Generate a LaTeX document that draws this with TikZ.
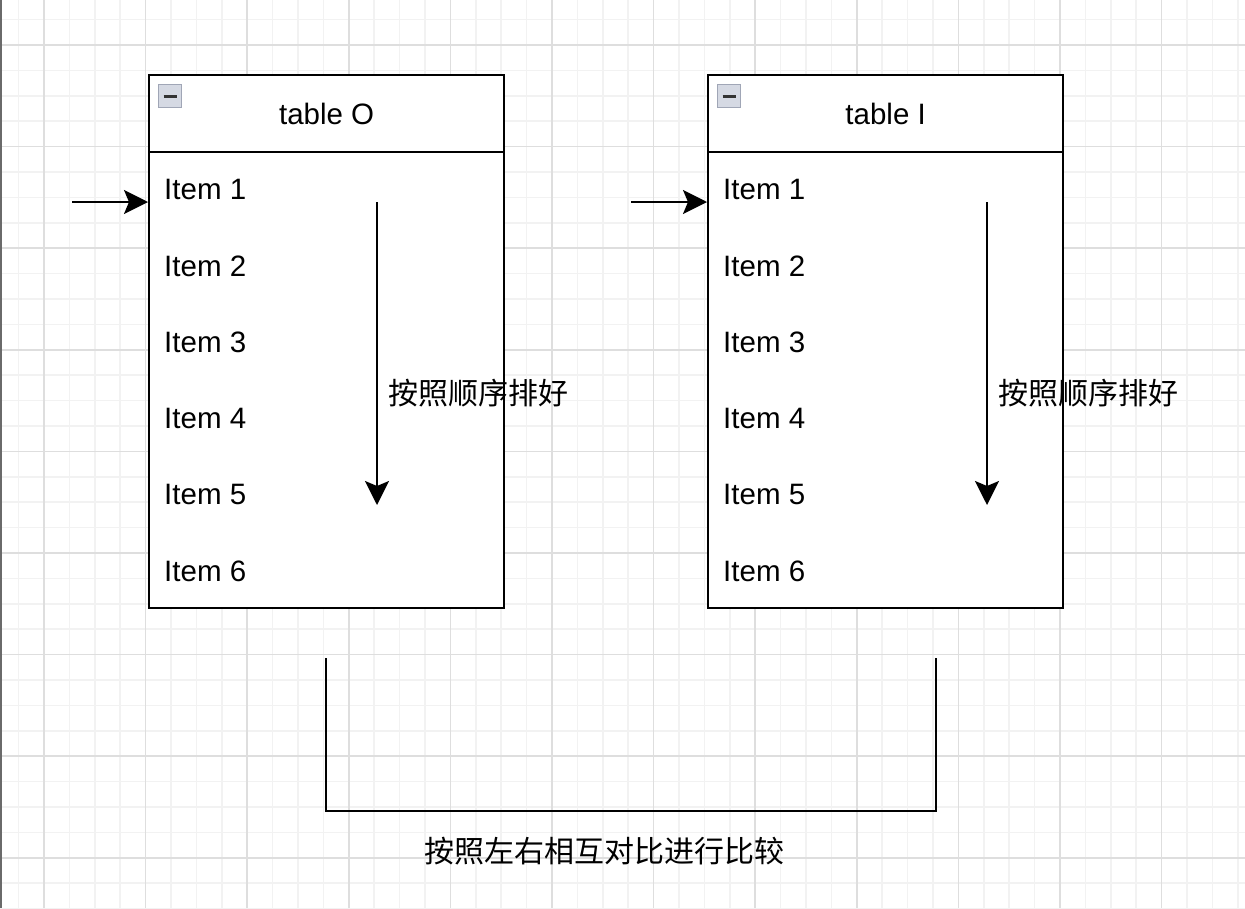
\documentclass[tikz,border=0pt]{standalone}
\usepackage{fontspec}
\setmainfont{Liberation Sans}
\newfontfamily\cjk{Noto Sans CJK SC}
\usetikzlibrary{arrows.meta}
\definecolor{gminor}{HTML}{F2F2F2}
\definecolor{gmajor}{HTML}{DEDEDE}
\definecolor{iconfill}{HTML}{D5D9E3}
\definecolor{iconline}{HTML}{A0A6B6}
\definecolor{edgegray}{HTML}{6A6A6A}
\tikzset{
  minorline/.style={gminor, line width=1.5pt},
  majorline/.style={gmajor, line width=1.5pt},
  tblbox/.style={draw=black, line width=2.3pt, fill=white, minimum width=355pt, inner sep=0pt, anchor=north west},
  hdr/.style={tblbox, minimum height=77pt, font=\fontsize{29.5}{34}\selectfont},
  body/.style={tblbox, minimum height=456pt},
  item/.style={anchor=west, inner sep=0pt, font=\fontsize{29.5}{34}\selectfont},
  icon/.style={draw=iconline, fill=iconfill, line width=1.5pt, minimum size=23pt, inner sep=0pt},
  icondash/.style={line width=3pt, draw=black!80},
  arr/.style={line width=2pt, -{Stealth[length=24pt, width=24pt, inset=5pt]}},
  conn/.style={line width=2pt},
  zh/.style={inner sep=0pt, font=\cjk\fontsize{30}{36}\selectfont},
}
\begin{document}
\begin{tikzpicture}[x=1pt, y=-1pt]
\useasboundingbox (0,0) rectangle (1245,908);
\fill[white] (0,0) rectangle (1245,908);
% grid
\foreach \i in {-1,...,48} \draw[minorline] ({44+25.4*\i},0) -- ({44+25.4*\i},908);
\foreach \j in {-1,...,35} \draw[minorline] (0,{45+25.4*\j}) -- (1245,{45+25.4*\j});
\foreach \i in {0,...,12} \draw[majorline] ({44+101.6*\i},0) -- ({44+101.6*\i},908);
\foreach \j in {0,...,8} \draw[majorline] (0,{45+101.6*\j}) -- (1245,{45+101.6*\j});
\draw[edgegray, line width=2.5pt] (1,0) -- (1,908);

% table O
\node[hdr] (hO) at (148,74) {table O};
\node[body] (bO) at (148,151) {};
\node[icon] (icO) at (170,96) {};
\draw[icondash] ([xshift=-6.5pt]icO.center) -- ([xshift=6.5pt]icO.center);
\node[item] (o1) at (164,189) {Item 1};
\node[item] (o2) at (164,266) {Item 2};
\node[item] (o3) at (164,342) {Item 3};
\node[item] (o4) at (164,418) {Item 4};
\node[item] (o5) at (164,494) {Item 5};
\node[item] (o6) at (164,571) {Item 6};

% table I
\node[hdr] (hI) at (707,74) {table I};
\node[body] (bI) at (707,151) {};
\node[icon] (icI) at (729,96) {};
\draw[icondash] ([xshift=-6.5pt]icI.center) -- ([xshift=6.5pt]icI.center);
\node[item] (i1) at (723,189) {Item 1};
\node[item] (i2) at (723,266) {Item 2};
\node[item] (i3) at (723,342) {Item 3};
\node[item] (i4) at (723,418) {Item 4};
\node[item] (i5) at (723,494) {Item 5};
\node[item] (i6) at (723,571) {Item 6};

% entry arrows
\coordinate (sO) at (72,202);
\coordinate (sI) at (631,202);
\draw[arr] (sO) -- (sO -| bO.west);
\draw[arr] (sI) -- (sI -| bI.west);

% sort arrows
\coordinate (dO1) at (377,202);
\coordinate (dO2) at (377,505);
\coordinate (dI1) at (987,202);
\coordinate (dI2) at (987,505);
\draw[arr] (dO1) -- (dO2);
\draw[arr] (dI1) -- (dI2);
\node[zh, anchor=west] (lO) at (388,393) {按照顺序排好};
\node[zh, anchor=west] (lI) at (998,393) {按照顺序排好};

% bracket
\coordinate (b1) at (326,658);
\coordinate (b2) at (326,811);
\coordinate (b3) at (936,811);
\coordinate (b4) at (936,658);
\draw[conn] (b1) -- (b2) -- (b3) -- (b4);
\node[zh] (lB) at (604,851) {按照左右相互对比进行比较};
\end{tikzpicture}
\end{document}
